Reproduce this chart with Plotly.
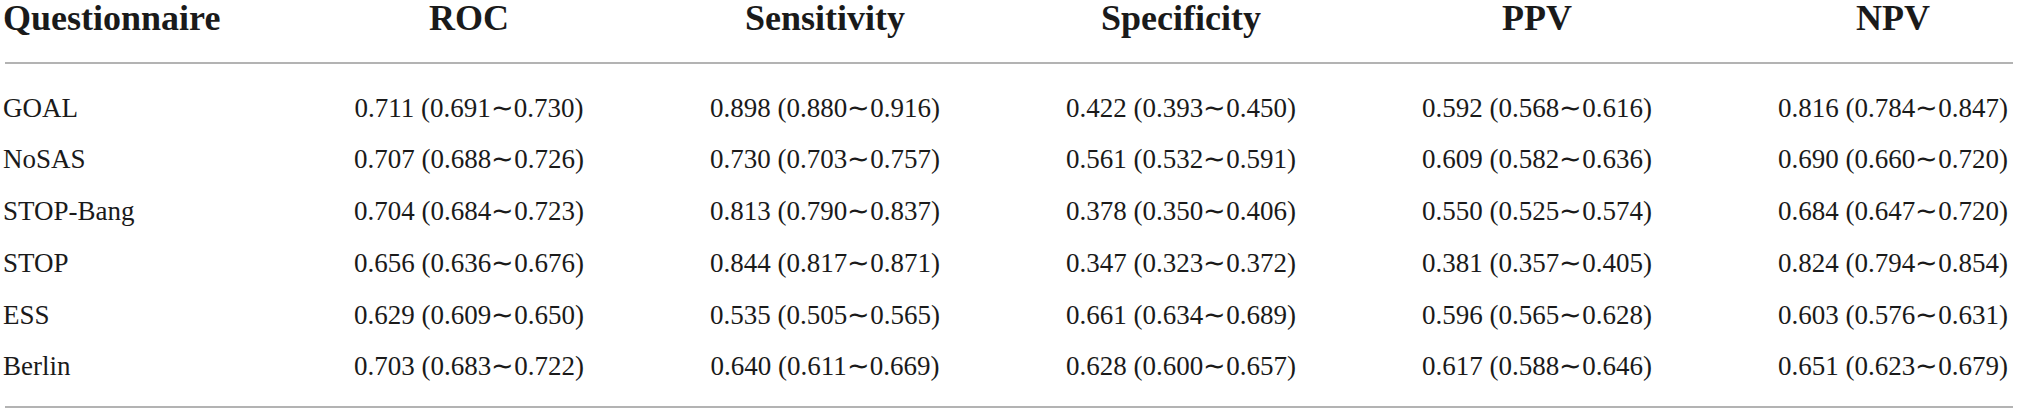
import plotly.graph_objects as go

# Table content
questionnaires = ["GOAL", "NoSAS", "STOP-Bang", "STOP", "ESS", "Berlin"]
metrics = ["ROC", "Sensitivity", "Specificity", "PPV", "NPV"]

roc = [0.711, 0.707, 0.704, 0.656, 0.629, 0.703]
roc_lo = [0.691, 0.688, 0.684, 0.636, 0.609, 0.683]
roc_hi = [0.730, 0.726, 0.723, 0.676, 0.650, 0.722]

sens = [0.898, 0.730, 0.813, 0.844, 0.535, 0.640]
sens_lo = [0.880, 0.703, 0.790, 0.817, 0.505, 0.611]
sens_hi = [0.916, 0.757, 0.837, 0.871, 0.565, 0.669]

spec = [0.422, 0.561, 0.378, 0.347, 0.661, 0.628]
spec_lo = [0.393, 0.532, 0.350, 0.323, 0.634, 0.600]
spec_hi = [0.450, 0.591, 0.406, 0.372, 0.689, 0.657]

ppv = [0.592, 0.609, 0.550, 0.381, 0.596, 0.617]
ppv_lo = [0.568, 0.582, 0.525, 0.357, 0.565, 0.588]
ppv_hi = [0.616, 0.636, 0.574, 0.405, 0.628, 0.646]

npv = [0.816, 0.690, 0.684, 0.824, 0.603, 0.651]
npv_lo = [0.784, 0.660, 0.647, 0.794, 0.576, 0.623]
npv_hi = [0.847, 0.720, 0.720, 0.854, 0.631, 0.679]

columns = [
    (roc, roc_lo, roc_hi),
    (sens, sens_lo, sens_hi),
    (spec, spec_lo, spec_hi),
    (ppv, ppv_lo, ppv_hi),
    (npv, npv_lo, npv_hi),
]

W, H = 2019, 414
first_x = 3
col_x = [469 + 356 * i for i in range(len(metrics))]
header_y = 21
row_y = [110 + 51.7 * i for i in range(len(questionnaires))]

body_font = dict(family="Liberation Serif", size=27, color="#1a1a1a")
head_font = dict(family="Liberation Serif", size=36, color="#1a1a1a")

fig = go.Figure()

# header row
fig.add_trace(go.Scatter(
    x=[first_x], y=[header_y], mode="text", text=["<b>Questionnaire</b>"],
    textposition="middle right", textfont=head_font, hoverinfo="skip",
    cliponaxis=False
))
fig.add_trace(go.Scatter(
    x=col_x, y=[header_y] * len(metrics), mode="text",
    text=["<b>%s</b>" % m for m in metrics],
    textposition="middle center", textfont=head_font, hoverinfo="skip",
    cliponaxis=False
))

# first column
fig.add_trace(go.Scatter(
    x=[first_x] * len(questionnaires), y=row_y, mode="text", text=questionnaires,
    textposition="middle right", textfont=body_font, hoverinfo="skip",
    cliponaxis=False
))

# value columns
for i, (est, lo, hi) in enumerate(columns):
    labels = ["%.3f (%.3f\u223c%.3f)" % (e, l, h) for e, l, h in zip(est, lo, hi)]
    fig.add_trace(go.Scatter(
        x=[col_x[i]] * len(labels), y=row_y, mode="text", text=labels,
        textposition="middle center", textfont=body_font, hoverinfo="skip",
        cliponaxis=False
    ))

# horizontal rules
for yy in [63, 407]:
    fig.add_shape(type="line", x0=5, x1=2013, y0=yy, y1=yy,
                  line=dict(color="#9a9a9a", width=1.6))

fig.update_layout(
    width=W, height=H,
    margin=dict(l=0, r=0, t=0, b=0),
    showlegend=False,
    plot_bgcolor="white", paper_bgcolor="white",
    xaxis=dict(range=[0, W], visible=False, fixedrange=True),
    yaxis=dict(range=[H, 0], visible=False, fixedrange=True),
)

fig.write_html("out.html", config={"displayModeBar": False},
               post_script="document.body.style.margin='0';document.body.style.overflow='hidden';")
